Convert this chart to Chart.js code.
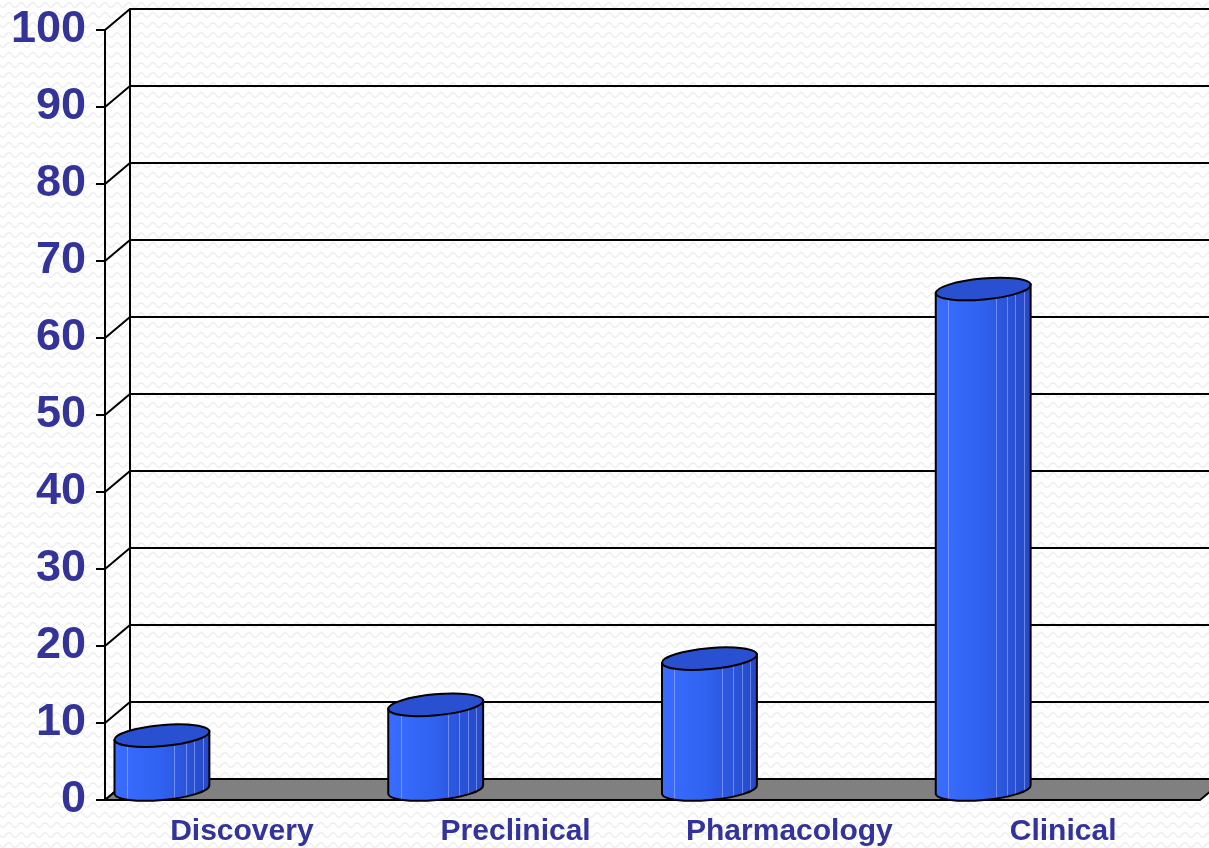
<!DOCTYPE html>
<html>
<head>
<meta charset="utf-8">
<script src="https://cdn.jsdelivr.net/npm/chart.js@4.4.0/dist/chart.umd.min.js"></script>
<style>
  html, body { margin: 0; padding: 0; background: #fff; }
  canvas { display: block; }
</style>
</head>
<body>
<canvas id="grafico" width="1209" height="848"></canvas>
<script>
// dados
const categorias = ["Discovery", "Preclinical", "Pharmacology", "Clinical"];
const valores = [7, 11, 17, 65];
const yMin = 0, yMax = 100, yPasso = 10;

const corTexto = "#333399";
const prof = { dx: 25, dy: -21 }; // profundidade do efeito 3D

// fundo com textura ondulada
function padraoFundo(ctx) {
  const c = document.createElement("canvas");
  c.width = 12; c.height = 10;
  const g = c.getContext("2d");
  g.fillStyle = "#ffffff";
  g.fillRect(0, 0, 12, 10);
  g.strokeStyle = "#eeeeee";
  g.lineWidth = 1.6;
  g.beginPath();
  for (let x = 0; x <= 12; x++) {
    const y = 5 + 2.5 * Math.sin((x / 12) * Math.PI * 2);
    if (x === 0) g.moveTo(x, y); else g.lineTo(x, y);
  }
  g.stroke();
  return ctx.createPattern(c, "repeat");
}

const fundo3d = {
  id: "fundo3d",
  beforeDraw(chart) {
    const { ctx, width, height, chartArea: a, scales: { y } } = chart;
    ctx.save();
    ctx.fillStyle = padraoFundo(ctx);
    ctx.fillRect(0, 0, width, height);

    ctx.strokeStyle = "#000";
    ctx.lineWidth = 2;
    // linhas de grade na parede do fundo + diagonais
    for (let v = yMin; v <= yMax; v += yPasso) {
      const py = y.getPixelForValue(v);
      ctx.beginPath();
      ctx.moveTo(a.left, py);
      ctx.lineTo(a.left + prof.dx, py + prof.dy);
      ctx.lineTo(width + 30, py + prof.dy);
      ctx.stroke();
    }
    // parede do fundo
    ctx.beginPath();
    ctx.moveTo(a.left + prof.dx, y.getPixelForValue(yMax) + prof.dy);
    ctx.lineTo(a.left + prof.dx, y.getPixelForValue(yMin) + prof.dy);
    ctx.stroke();

    // piso cinza
    const b = y.getPixelForValue(yMin);
    ctx.beginPath();
    ctx.moveTo(a.left, b);
    ctx.lineTo(a.right, b);
    ctx.lineTo(a.right + prof.dx, b + prof.dy);
    ctx.lineTo(a.left + prof.dx, b + prof.dy);
    ctx.closePath();
    ctx.fillStyle = "#808080";
    ctx.fill();
    ctx.stroke();
    ctx.restore();
  }
};

const cilindros = {
  id: "cilindros",
  afterDatasetsDraw(chart) {
    const { ctx, scales: { x, y } } = chart;
    const meta = chart.getDatasetMeta(0);
    const larguraCat = (x.right - x.left) / categorias.length;
    const rx = larguraCat * 0.174, ry = 10.5, rot = -0.09;
    const base = y.getPixelForValue(0) + prof.dy / 2;
    ctx.save();
    meta.data.forEach((el, i) => {
      const cx = el.x - larguraCat * 0.292;
      const topo = el.y + prof.dy / 2;
      const ex = rx * Math.cos(rot), ey = rx * Math.sin(rot);
      const x0 = cx - ex, x1 = cx + ex;

      const corpo = () => {
        ctx.beginPath();
        ctx.moveTo(x0, topo - ey);
        ctx.lineTo(x0, base - ey);
        ctx.ellipse(cx, base, rx, ry, rot, Math.PI, 0, true);
        ctx.lineTo(x1, topo + ey);
        ctx.closePath();
      };

      // corpo
      const grad = ctx.createLinearGradient(x0, 0, x1, 0);
      grad.addColorStop(0, "#3a6cff");
      grad.addColorStop(0.45, "#3163f2");
      grad.addColorStop(1, "#2548c6");
      corpo();
      ctx.fillStyle = grad;
      ctx.fill();

      // faixas claras
      ctx.save();
      ctx.clip();
      ctx.strokeStyle = "rgba(190,205,255,0.45)";
      ctx.lineWidth = 1;
      [0.13, 0.63, 0.75, 0.84, 0.93].forEach(f => {
        const sx = Math.round(x0 + (x1 - x0) * f) + 0.5;
        ctx.beginPath();
        ctx.moveTo(sx, topo - 20);
        ctx.lineTo(sx, base + 20);
        ctx.stroke();
      });
      ctx.restore();

      ctx.strokeStyle = "#000";
      ctx.lineWidth = 2;
      corpo();
      ctx.stroke();

      // tampa
      ctx.beginPath();
      ctx.ellipse(cx, topo, rx, ry, rot, 0, Math.PI * 2);
      ctx.fillStyle = "#2a50d2";
      ctx.fill();
      ctx.stroke();
    });
    ctx.restore();
  }
};

new Chart(document.getElementById("grafico"), {
  type: "bar",
  data: {
    labels: categorias,
    datasets: [{ data: valores, backgroundColor: "rgba(0,0,0,0)", borderWidth: 0 }]
  },
  options: {
    responsive: false,
    devicePixelRatio: 1,
    animation: false,
    layout: { padding: { top: 30, right: 9, left: 0, bottom: 0 } },
    plugins: { legend: { display: false }, tooltip: { enabled: false } },
    scales: {
      x: {
        grid: { display: false, drawTicks: false },
        border: { display: false },
        ticks: { color: corTexto, padding: 14, maxRotation: 0,
                 font: { family: "'Liberation Sans', Arial, sans-serif", size: 30, weight: "bold" } },
        afterFit(s) { s.height = 48; }
      },
      y: {
        min: yMin, max: yMax,
        grid: { drawOnChartArea: false, color: "#000", lineWidth: 2, tickLength: 9 },
        border: { display: true, color: "#000", width: 2 },
        ticks: { stepSize: yPasso, color: corTexto, padding: 10,
                 font: { family: "'Liberation Sans', Arial, sans-serif", size: 45, weight: "bold" } },
        afterFit(s) { s.width = 105; s.paddingTop = 0; s.paddingBottom = 0; }
      }
    }
  },
  plugins: [fundo3d, cilindros]
});
</script>
</body>
</html>
